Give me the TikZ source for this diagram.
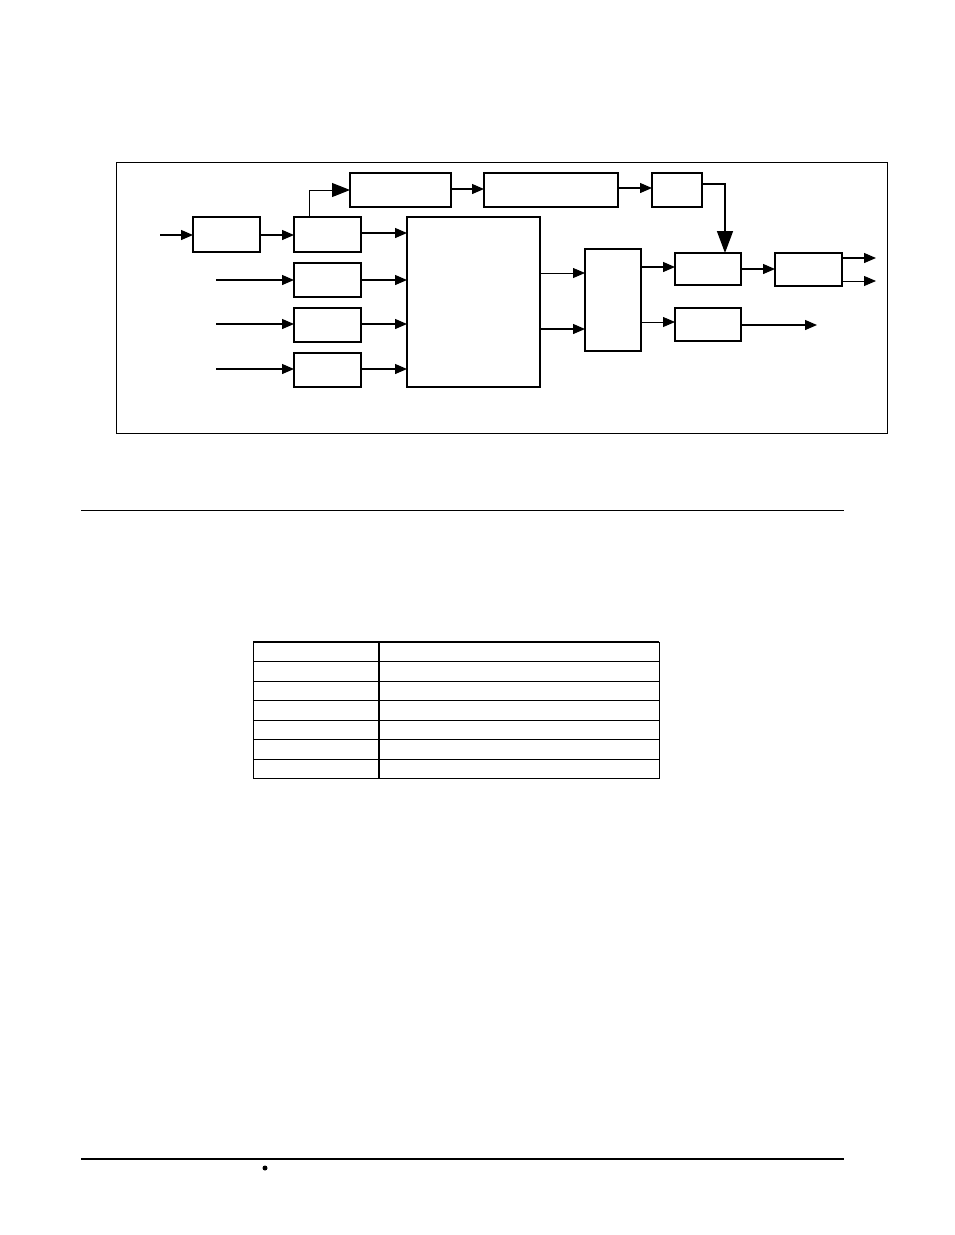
\documentclass[tikz,border=0pt]{standalone}
\usetikzlibrary{arrows.meta}

\tikzset{
  blk/.style={draw, line width=1.3pt, inner sep=0pt, outer sep=0pt},
  arr/.style={line width=1.3pt, -{Triangle[length=12pt, width=10pt]}},
  thin arr/.style={line width=0.8pt, -{Triangle[length=12pt, width=10pt]}},
  big arr/.style={line width=1.5pt, -{Triangle[length=22pt, width=16pt]}}
}
\newcommand{\blkat}[5]{\node[blk, minimum width=#4-#2, minimum height=#5-#3] (#1) at ({(#2+#4)/2}, {(#3+#5)/2}) {};}

\begin{document}
\begin{tikzpicture}[x=1pt, y=-1pt]
    \useasboundingbox (0, 0) rectangle (954, 1235);
    % frame
    \draw[line width=0.8pt] (116, 162) rectangle (887, 433);
    % blocks
    \blkat{inbuf}{193}{217}{260}{252}
    \blkat{ch1}{294}{217}{361}{252}
    \blkat{ch2}{294}{263}{361}{297}
    \blkat{ch3}{294}{308}{361}{342}
    \blkat{ch4}{294}{353}{361}{387}
    \blkat{core}{407}{217}{540}{387}
    \blkat{top1}{350}{173}{451}{207}
    \blkat{top2}{484}{173}{618}{207}
    \blkat{top3}{652}{173}{702}{207}
    \blkat{sel}{585}{249}{641}{351}
    \blkat{outa}{675}{253}{741}{285}
    \blkat{drv}{775}{253}{842}{286}
    \blkat{outb}{675}{308}{741}{341}
    \coordinate (in1) at (160, 235);
    \coordinate (in2) at (216, 280);
    \coordinate (in3) at (216, 324);
    \coordinate (in4) at (216, 369);
    \coordinate (o1) at (876, 258);
    \coordinate (o2) at (876, 281);
    \coordinate (o3) at (817, 325);
    % inputs
    \draw[arr] (in1) -- (inbuf.west |- in1);
    \draw[arr] (inbuf.east |- in1) -- (ch1.west |- in1);
    \draw[arr] (in2) -- (ch2.west |- in2);
    \draw[arr] (in3) -- (ch3.west |- in3);
    \draw[arr] (in4) -- (ch4.west |- in4);
    \foreach \c/\y in {ch1/233, ch2/280, ch3/324, ch4/369}
        \draw[arr] (\c.east |- 0, \y) -- (core.west |- 0, \y);
    % top path
    \draw[line width=1pt, -{Triangle[length=18pt, width=14pt]}]
        (ch1.north -| 309, 0) |- (top1.west |- 0, 190);
    \draw[arr] (top1.east |- 0, 189) -- (top2.west |- 0, 189);
    \draw[arr] (top2.east |- 0, 188) -- (top3.west |- 0, 188);
    \draw[big arr] (top3.east |- 0, 184) -| (outa.north -| 725, 0);
    % core to selector
    \draw[thin arr] (core.east |- 0, 273) -- (sel.west |- 0, 273);
    \draw[arr] (core.east |- 0, 329) -- (sel.west |- 0, 329);
    \draw[arr] (sel.east |- 0, 267) -- (outa.west |- 0, 267);
    \draw[thin arr] (sel.east |- 0, 322) -- (outb.west |- 0, 322);
    \draw[arr] (outa.east |- 0, 269) -- (drv.west |- 0, 269);
    \draw[arr] (drv.east |- o1) -- (o1);
    \draw[thin arr] (drv.east |- o2) -- (o2);
    \draw[arr] (outb.east |- o3) -- (o3);
    % rule
    \draw[line width=0.8pt] (81, 510) -- (844, 510);
    % table
    \draw[line width=1pt] (253, 642) rectangle (659, 778);
    \draw[line width=1.3pt] (253, 642) -- (659, 642);
    \draw[line width=1.3pt] (379, 642) -- (379, 778);
    \foreach \y in {661, 681, 700, 720, 739, 759}
        \draw[line width=0.8pt] (253, \y) -- (659, \y);
    % footer
    \draw[line width=1.5pt] (81, 1159) -- (844, 1159);
    \fill (265, 1168) circle (2.5);
\end{tikzpicture}
\end{document}
